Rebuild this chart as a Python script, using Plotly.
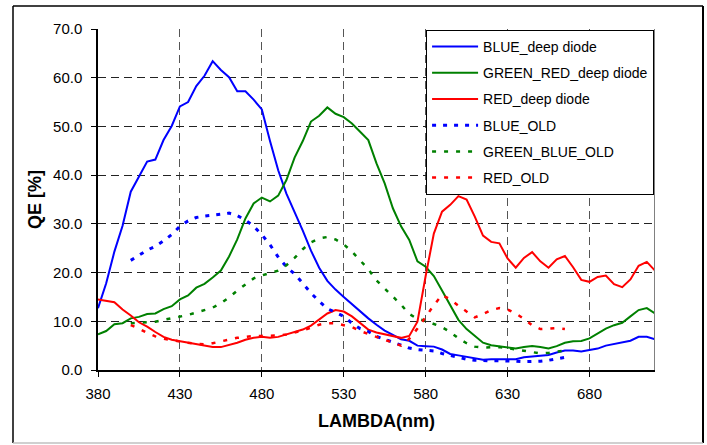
import plotly.graph_objects as go

wavelength = list(range(380, 725, 5))
wavelength_old = list(range(400, 670, 5))

blue_deep = [12.7, 17.8, 24.3, 29.6, 36.6, 39.7, 42.8, 43.2, 47.2, 50.1, 54.1, 55.0, 58.3, 60.4,
             63.4, 61.6, 60.1, 57.2, 57.2, 55.5, 53.5, 47.0, 41.0, 36.2, 32.5, 28.6, 24.5, 21.0,
             18.3, 16.5, 15.0, 13.5, 12.0, 10.6, 9.3, 8.1, 7.2, 6.3, 6.0, 5.0, 4.9, 4.8, 4.2,
             3.3, 3.0, 2.7, 2.4, 2.1, 2.2, 2.2, 2.2, 2.2, 2.6, 2.8, 3.0, 3.1, 3.6, 4.0, 4.0,
             3.8, 4.1, 4.4, 5.0, 5.3, 5.6, 6.0, 6.8, 6.8, 6.3]
green_red_deep = [7.3, 8.0, 9.4, 9.6, 10.6, 10.9, 11.5, 11.6, 12.5, 13.1, 14.5, 15.3, 16.9, 17.7,
                  19.0, 20.4, 23.3, 26.8, 31.1, 34.2, 35.4, 34.6, 35.8, 39.0, 43.6, 47.0, 51.0,
                  52.2, 53.9, 52.6, 51.9, 50.6, 48.9, 47.2, 42.4, 38.3, 33.2, 29.5, 26.7, 22.3,
                  21.2, 19.3, 16.3, 13.2, 10.3, 8.4, 6.9, 5.6, 5.1, 4.9, 4.7, 4.4, 4.7, 4.9, 4.7,
                  4.4, 4.9, 5.6, 5.9, 5.95, 6.5, 7.5, 8.5, 9.2, 9.7, 11.0, 12.3, 12.7, 11.6]
red_deep = [14.5, 14.2, 13.9, 12.4, 11.2, 9.8, 8.9, 7.8, 6.8, 6.2, 5.9, 5.5, 5.3, 4.9, 4.7, 4.7,
            5.1, 5.6, 6.2, 6.6, 6.8, 6.6, 6.8, 7.3, 7.7, 8.3, 9.1, 10.3, 11.6, 12.3, 12.0, 11.0,
            9.7, 8.3, 7.7, 7.3, 6.9, 6.6, 7.0, 9.9, 19.3, 28.0, 32.5, 33.9, 35.7, 35.0, 31.5,
            27.6, 26.3, 26.0, 22.9, 21.0, 23.0, 24.2, 22.3, 21.0, 22.7, 23.4, 21.1, 18.5, 18.1,
            19.1, 19.4, 17.6, 17.0, 18.6, 21.4, 22.2, 20.4]
blue_old = [22.5, 23.5, 24.6, 25.4, 26.5, 27.8, 29.5, 30.6, 31.3, 31.6, 31.8, 31.9, 32.2, 31.7,
            30.8, 29.5, 27.8, 25.7, 23.2, 21.2, 19.7, 17.8, 15.8, 14.1, 12.6, 11.8, 11.0, 9.6,
            8.5, 7.9, 6.9, 6.3, 5.7, 5.0, 4.5, 4.2, 4.1, 3.9, 3.4, 3.0, 2.6, 2.2, 2.0, 1.9, 1.9,
            1.9, 1.9, 1.8, 1.7, 1.7, 1.8, 2.0, 2.3, 2.6]
green_blue_old = [9.6, 9.7, 9.8, 9.9, 10.3, 10.6, 10.9, 11.3, 11.8, 12.3, 12.8, 13.7, 14.9, 16.3,
                  17.6, 18.8, 19.4, 19.9, 20.4, 21.5, 23.0, 24.8, 26.2, 27.0, 27.3, 26.8, 25.8,
                  24.3, 22.5, 20.7, 18.4, 16.8, 15.2, 13.4, 11.5, 10.5, 10.1, 9.5, 8.8, 7.8, 6.5,
                  5.5, 4.8, 4.6, 4.7, 4.7, 4.5, 4.2, 4.0, 3.7, 3.4, 3.5, 3.8, 4.0]
red_old = [9.2, 8.5, 7.6, 6.9, 6.4, 6.1, 5.9, 5.6, 5.4, 5.3, 5.5, 5.9, 6.3, 6.6, 6.8, 7.0, 7.0,
           7.0, 7.1, 7.3, 7.7, 8.1, 8.7, 9.3, 9.6, 9.6, 9.2, 8.8, 8.0, 7.4, 6.8, 6.2, 5.7, 5.0,
           6.4, 8.5, 10.9, 13.3, 15.4, 14.5, 13.2, 12.0, 10.8, 11.5, 12.3, 12.7, 12.4, 11.6,
           10.5, 9.2, 8.4, 8.5, 8.6, 8.4]

x_ticks = [380, 430, 480, 530, 580, 630, 680]
y_ticks = [0, 10, 20, 30, 40, 50, 60, 70]

FONT = "Liberation Sans, Arial, sans-serif"
BLUE, GREEN, RED = "#0000FF", "#008000", "#FF0000"

series = [
    ("BLUE_deep diode", wavelength, blue_deep, BLUE, 2, "solid"),
    ("GREEN_RED_deep diode", wavelength, green_red_deep, GREEN, 2, "solid"),
    ("RED_deep diode", wavelength, red_deep, RED, 2, "solid"),
    ("BLUE_OLD", wavelength_old, blue_old, BLUE, 3, "4px,7px"),
    ("GREEN_BLUE_OLD", wavelength_old, green_blue_old, GREEN, 2.5, "4px,8px"),
    ("RED_OLD", wavelength_old, red_old, RED, 2.5, "4px,8px"),
]

fig = go.Figure()
for i, (name, xs, ys, col, w, dash) in enumerate(series):
    fig.add_trace(go.Scatter(x=xs, y=ys, name=name, mode="lines", legendgroup=f"g{i}",
                             line=dict(color=col, width=w, dash=dash)))

fig.update_layout(
    width=707, height=445,
    margin=dict(l=98, r=52, t=29, b=75),
    paper_bgcolor="white", plot_bgcolor="white",
    font=dict(family=FONT, size=15, color="black"),
    showlegend=True,
    legend=dict(x=0.589, y=0.997, xanchor="left", yanchor="top",
                bgcolor="white", bordercolor="black", borderwidth=1,
                font=dict(size=14), traceorder="grouped", tracegroupgap=5,
                itemwidth=46),
    xaxis=dict(range=[380, 720], tickvals=x_ticks, ticks="outside", ticklen=5,
               tickcolor="black", showline=True, linecolor="black", linewidth=1.5,
               showgrid=True, gridcolor="#555555", griddash="8px,5px", gridwidth=1,
               zeroline=False, ticklabelstandoff=4,
               title=dict(text="<b>LAMBDA(nm)</b>", font=dict(size=18), standoff=14)),
    yaxis=dict(range=[0, 70], tickvals=y_ticks, tickformat=".1f", ticks="outside", ticklen=5,
               tickcolor="black", showline=True, linecolor="black", linewidth=1.5,
               showgrid=True, gridcolor="#222222", griddash="8px,5px", gridwidth=1,
               zeroline=False, ticklabelstandoff=6,
               title=dict(text="<b>QE [%]</b>", font=dict(size=18), standoff=7)),
)

# right edge of plot area
fig.add_shape(type="line", xref="x", yref="y", x0=720, x1=720, y0=0, y1=70,
              line=dict(color="#808080", width=2), layer="above")
# outer chart border
bx0, bx1 = (13 - 98) / 557, (703 - 98) / 557
by0, by1 = (370 - 443) / 341, (370 - 6) / 341
fig.add_shape(type="line", xref="paper", yref="paper", x0=bx0, x1=bx0, y0=by0, y1=by1,
              line=dict(color="black", width=1.5))
fig.add_shape(type="line", xref="paper", yref="paper", x0=bx0, x1=bx1, y0=by1, y1=by1,
              line=dict(color="black", width=1.5))
fig.add_shape(type="line", xref="paper", yref="paper", x0=bx1, x1=bx1, y0=by0, y1=by1,
              line=dict(color="black", width=2))
fig.add_shape(type="line", xref="paper", yref="paper", x0=bx0, x1=bx1, y0=by0, y1=by0,
              line=dict(color="#C0C0C0", width=1.5))

fig.write_html("out.html")
